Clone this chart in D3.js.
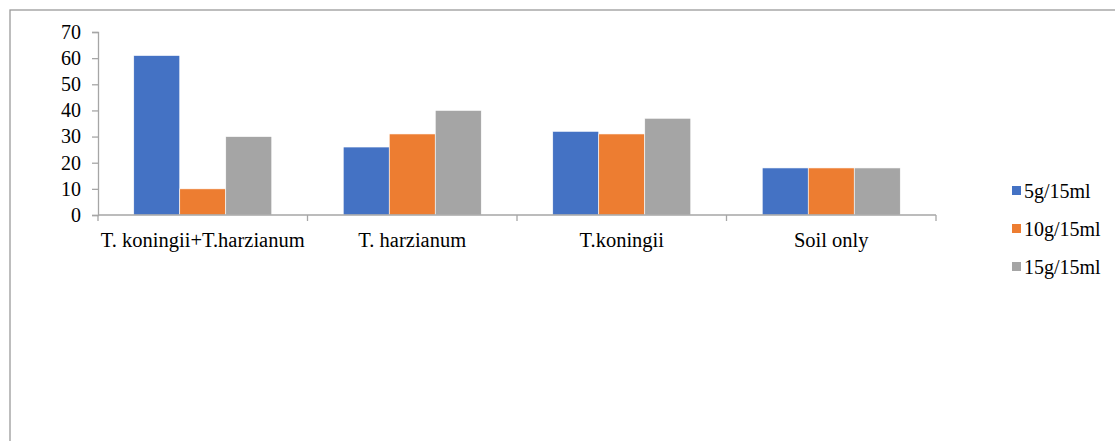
<!DOCTYPE html>
<html>
<head>
<meta charset="utf-8">
<script src="https://cdn.jsdelivr.net/npm/d3@7"></script>
<style>
  html, body { margin: 0; padding: 0; background: #fff; }
  svg { display: block; }
  text { font-family: "Liberation Serif", "Times New Roman", "DejaVu Serif", serif; fill: #000; }
</style>
</head>
<body>
<svg id="chart" width="1115" height="441"></svg>
<script>
// Treatments on the x axis
const categories = ["T. koningii+T.harzianum", "T. harzianum", "T.koningii", "Soil only"];
// Dose series
const seriesNames = ["5g/15ml", "10g/15ml", "15g/15ml"];
const seriesColors = ["#4472C4", "#ED7D31", "#A5A5A5"];
// Values per series, one per treatment
const dose5 = [61, 26, 32, 18];
const dose10 = [10, 31, 31, 18];
const dose15 = [30, 40, 37, 18];
const seriesValues = [dose5, dose10, dose15];
const yTicks = [0, 10, 20, 30, 40, 50, 60, 70];

const svg = d3.select("#chart");
const W = 1115, H = 441;
const serif = "Liberation Serif, Times New Roman, DejaVu Serif, serif";

// Outer frame (runs past the right and bottom edges)
svg.append("rect")
  .attr("x", 10).attr("y", 10)
  .attr("width", W + 20).attr("height", H + 20)
  .attr("fill", "none").attr("stroke", "#9a9a9a").attr("stroke-width", 1.3);

const plot = { left: 98, right: 936, top: 32, bottom: 215 };

const x = d3.scaleBand().domain(categories).range([plot.left, plot.right]).padding(0);
const xs = d3.scaleBand().domain(seriesNames).range([0, x.bandwidth()])
  .paddingInner(0).paddingOuter(0.777);
const y = d3.scaleLinear().domain([0, 70]).range([plot.bottom, plot.top]);

const axisColor = "#a6a6a6";

// Bars
const rows = categories.map((c, i) => ({ c, vals: seriesNames.map((s, j) => ({ s, v: seriesValues[j][i], color: seriesColors[j] })) }));
const g = svg.append("g");
g.selectAll("g.grp").data(rows).join("g")
  .attr("class", "grp")
  .attr("transform", d => `translate(${x(d.c)},0)`)
  .selectAll("rect").data(d => d.vals).join("rect")
  .attr("x", d => xs(d.s))
  .attr("width", xs.bandwidth())
  .attr("y", d => y(d.v))
  .attr("height", d => y(0) - y(d.v))
  .attr("fill", d => d.color)
  .attr("stroke", "#ffffff").attr("stroke-width", 0.6);

// Y axis
const yAxis = svg.append("g")
  .attr("transform", `translate(${plot.left},0)`)
  .call(d3.axisLeft(y).tickValues(yTicks).tickSize(6).tickPadding(11).tickFormat(d3.format("d")));
yAxis.attr("font-family", serif).attr("font-size", 20);
yAxis.select(".domain").attr("stroke", axisColor).attr("stroke-width", 1.3);
yAxis.selectAll(".tick line").attr("stroke", axisColor).attr("stroke-width", 1.3);
yAxis.selectAll(".tick text").attr("fill", "#000");

// X axis: baseline with ticks at category boundaries
const xAxisG = svg.append("g");
xAxisG.append("line")
  .attr("x1", plot.left).attr("x2", plot.right)
  .attr("y1", y(0)).attr("y2", y(0))
  .attr("stroke", axisColor).attr("stroke-width", 1.5);
const bounds = categories.map(c => x(c)).concat([x(categories[categories.length - 1]) + x.bandwidth()]);
xAxisG.selectAll("line.tk").data(bounds).join("line")
  .attr("class", "tk")
  .attr("x1", d => d).attr("x2", d => d)
  .attr("y1", y(0)).attr("y2", y(0) + 6)
  .attr("stroke", axisColor).attr("stroke-width", 1.3);
xAxisG.selectAll("text").data(categories).join("text")
  .attr("x", d => x(d) + x.bandwidth() / 2)
  .attr("y", 247)
  .attr("text-anchor", "middle")
  .attr("font-size", 20.5)
  .text(d => d);

// Legend
const legend = svg.append("g").attr("transform", "translate(1012,0)");
const legendRows = legend.selectAll("g").data(seriesNames).join("g")
  .attr("transform", (d, i) => `translate(0,${198 + i * 38})`);
legendRows.append("rect")
  .attr("x", 0).attr("y", -12).attr("width", 9).attr("height", 9)
  .attr("fill", (d, i) => seriesColors[i]);
legendRows.append("text")
  .attr("x", 12).attr("y", 0)
  .attr("font-size", 20)
  .text(d => d);
</script>
</body>
</html>
